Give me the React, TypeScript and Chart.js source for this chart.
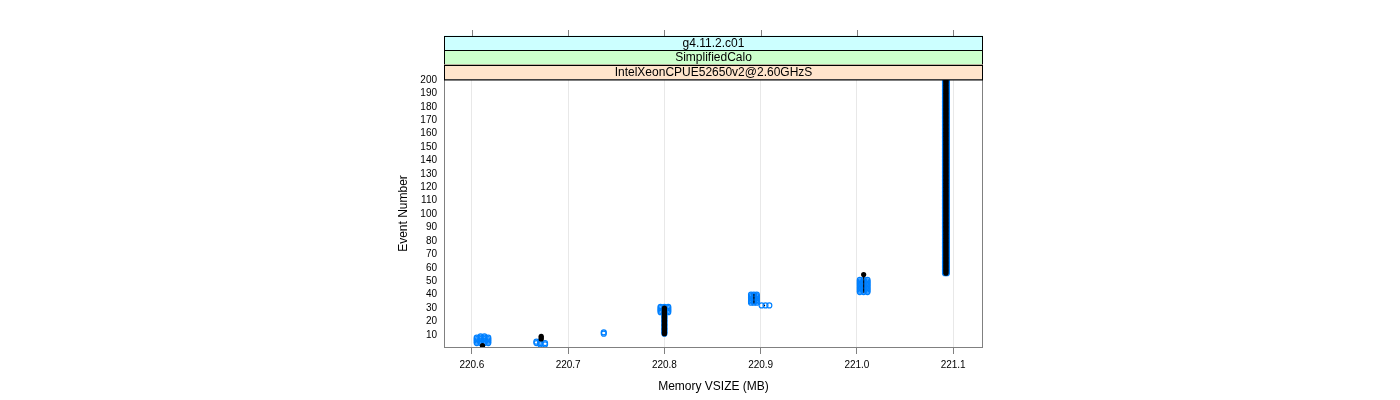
import React, { useEffect, useRef } from "react";
import { Chart, registerables } from "chart.js";

Chart.register(...registerables);

// ---------- data ----------
const stripLabels = ["g4.11.2.c01", "SimplifiedCalo", "IntelXeonCPUE52650v2@2.60GHzS"];
const stripColors = ["#ccffff", "#ccffcc", "#ffe5cc"];

const xTickValues = [220.6, 220.7, 220.8, 220.9, 221.0, 221.1];
const yTickValues = [10, 20, 30, 40, 50, 60, 70, 80, 90, 100, 110, 120, 130, 140, 150, 160, 170, 180, 190, 200];

// Runs of consecutive events recorded at the same memory value (blue open circles)
const blueRunMemory = [
  220.605, 220.609, 220.613, 220.617,
  220.667, 220.671, 220.676,
  220.737,
  220.796, 220.800, 220.804, 220.800,
  220.890, 220.893, 220.896, 220.901, 220.905, 220.909,
  221.003, 221.007, 221.011,
  221.0915, 221.0935,
];
const blueRunFirstEvent = [
  4, 4, 4, 4,
  4, 3, 3,
  11,
  27, 27, 27, 11,
  34, 34, 34, 32, 32, 32,
  42, 42, 42,
  56, 56,
];
const blueRunLastEvent = [
  8, 9, 9, 8,
  5, 5, 4,
  12,
  31, 31, 31, 26,
  40, 40, 40, 32, 32, 32,
  51, 51, 51,
  200, 200,
];

// Runs for the black (filled, larger) markers
const blackRunMemory = [220.611, 220.672, 220.800, 221.007, 221.0925];
const blackRunFirstEvent = [1, 7, 11, 55, 56];
const blackRunLastEvent = [2, 9, 30, 55, 200];

// Runs for the black (filled, tiny) markers
const blackThinRunMemory = [220.893, 220.904, 221.007];
const blackThinRunFirstEvent = [34, 32, 42];
const blackThinRunLastEvent = [40, 32, 53];

// ---------- helpers ----------
function expandRuns(mem: number[], first: number[], last: number[]) {
  const pts: { x: number; y: number }[] = [];
  for (let i = 0; i < mem.length; i++) {
    for (let e = first[i]; e <= last[i]; e++) pts.push({ x: mem[i], y: e });
  }
  return pts;
}

const FONT = "'Liberation Sans', Arial, Helvetica, sans-serif";
const AXIS_COLOR = "#808080";

const latticePlugin = {
  id: "latticeDecor",
  afterDraw(chart: any) {
    const { ctx, chartArea: a, scales } = chart;
    ctx.save();
    // panel border
    ctx.strokeStyle = AXIS_COLOR;
    ctx.lineWidth = 1;
    ctx.strokeRect(a.left + 0.5, a.top + 0.5, a.right - a.left - 1, a.bottom - a.top - 1);

    // strips
    const h = 14.5;
    const n = stripLabels.length;
    for (let i = 0; i < n; i++) {
      const top = a.top - (n - i) * h;
      ctx.fillStyle = stripColors[i];
      ctx.fillRect(a.left, top, a.right - a.left, h);
      ctx.strokeStyle = "#000";
      ctx.strokeRect(a.left + 0.5, Math.round(top) + 0.5, a.right - a.left - 1, h);
      ctx.fillStyle = "#000";
      ctx.font = `12px ${FONT}`;
      ctx.textAlign = "center";
      ctx.textBaseline = "middle";
      ctx.fillText(stripLabels[i], (a.left + a.right) / 2, top + h / 2 + 0.5);
    }
    // top ticks
    const stripTop = Math.round(a.top - n * h);
    ctx.strokeStyle = AXIS_COLOR;
    ctx.lineWidth = 1;
    for (const v of xTickValues) {
      const px = Math.round(scales.x.getPixelForValue(v)) + 0.5;
      ctx.beginPath();
      ctx.moveTo(px, stripTop - 6);
      ctx.lineTo(px, stripTop);
      ctx.stroke();
    }
    ctx.restore();
  },
};

export default function App() {
  const ref = useRef<HTMLCanvasElement | null>(null);

  useEffect(() => {
    if (!ref.current) return;
    const chart = new Chart(ref.current, {
      type: "scatter",
      data: {
        datasets: [
          {
            label: "black",
            data: expandRuns(blackRunMemory, blackRunFirstEvent, blackRunLastEvent),
            pointRadius: 2.6,
            pointBackgroundColor: "#000",
            pointBorderWidth: 0,
            borderColor: "#000",
            clip: 0,
          } as any,
          {
            label: "blackThin",
            data: expandRuns(blackThinRunMemory, blackThinRunFirstEvent, blackThinRunLastEvent),
            pointRadius: 0.7,
            pointBackgroundColor: "#000",
            pointBorderWidth: 0,
            borderColor: "#000",
            clip: 0,
          } as any,
          {
            label: "blue",
            data: expandRuns(blueRunMemory, blueRunFirstEvent, blueRunLastEvent),
            pointRadius: 2.5,
            pointBorderWidth: 1.2,
            pointBorderColor: "#0080ff",
            pointBackgroundColor: "rgba(0,0,0,0)",
            borderColor: "#0080ff",
            clip: 0,
          } as any,
        ],
      },
      options: {
        responsive: false,
        animation: false,
        devicePixelRatio: 1,
        layout: { padding: { left: 380, right: 417, top: 79, bottom: 0 } },
        plugins: {
          legend: { display: false },
          tooltip: { enabled: false },
          title: { display: false },
        },
        scales: {
          x: {
            type: "linear",
            min: 220.571,
            max: 221.131,
            afterBuildTicks: (s: any) => {
              s.ticks = xTickValues.map((v) => ({ value: v }));
            },
            afterFit: (s: any) => {
              s.height = 52;
            },
            ticks: {
              callback: (v: any) => Number(v).toFixed(1),
              font: { size: 10, family: FONT },
              color: "#000",
              padding: 5,
              maxRotation: 0,
              autoSkip: false,
            },
            grid: {
              color: "#e8e8e8",
              tickColor: AXIS_COLOR,
              tickLength: 6,
              drawTicks: true,
              lineWidth: 1,
            },
            border: { display: false },
            title: {
              display: true,
              text: "Memory VSIZE (MB)",
              color: "#000",
              font: { size: 12, family: FONT },
              padding: { top: 0, bottom: 6 },
            },
          },
          y: {
            type: "linear",
            min: 0.3,
            max: 200.7,
            afterBuildTicks: (s: any) => {
              s.ticks = yTickValues.map((v) => ({ value: v }));
            },
            afterFit: (s: any) => {
              s.width = 64;
            },
            ticks: {
              font: { size: 10, family: FONT },
              color: "#000",
              padding: 7,
              autoSkip: false,
            },
            grid: { display: false, drawTicks: false },
            border: { display: false },
            title: {
              display: true,
              text: "Event Number",
              color: "#000",
              font: { size: 12, family: FONT },
              padding: { top: 16, bottom: 0 },
            },
          },
        },
      },
      plugins: [latticePlugin],
    } as any);
    return () => chart.destroy();
  }, []);

  return (
    <div style={{ position: "fixed", left: 0, top: 0, width: 1400, height: 400, background: "#fff" }}>
      <canvas ref={ref} width={1400} height={400} style={{ width: 1400, height: 400, display: "block" }} />
    </div>
  );
}
